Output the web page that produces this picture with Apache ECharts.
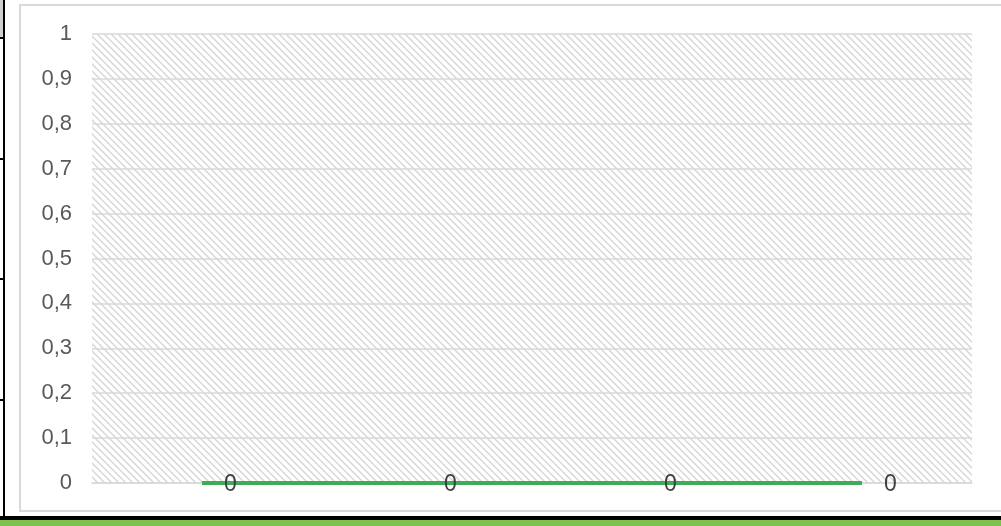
<!DOCTYPE html>
<html>
<head>
<meta charset="utf-8">
<script src="https://cdn.jsdelivr.net/npm/echarts@6/dist/echarts.min.js"></script>
<style>
  html, body { margin: 0; padding: 0; background: #fff; }
  #chart { width: 1001px; height: 526px; }
</style>
</head>
<body>
<div id="chart"></div>
<script>
// data
const categories = ["A", "B", "C", "D"];
const values = [0, 0, 0, 0];
const yMin = 0;
const yMax = 1;
const yStep = 0.1;

// diagonal hatch for the plot background
function hatch() {
  const c = document.createElement("canvas");
  c.width = 7;
  c.height = 7;
  const ctx = c.getContext("2d");
  ctx.strokeStyle = "#d6d6d6";
  ctx.lineWidth = 1.4;
  [-7, 0, 7].forEach((k) => {
    ctx.beginPath();
    ctx.moveTo(k - 1, -1);
    ctx.lineTo(k + 8, 8);
    ctx.stroke();
  });
  return { image: c, repeat: "repeat" };
}

const myChart = echarts.init(document.getElementById("chart"));
const option = {
  animation: false,
  backgroundColor: "#fff",
  grid: {
    left: 92,
    right: 29,
    top: 34,
    bottom: 43,
    show: true,
    borderWidth: 0,
    backgroundColor: hatch(),
  },
  graphic: [
    // outer chart frame
    { type: "rect", shape: { x: 20, y: 5, width: 1000, height: 506 }, style: { fill: "none", stroke: "#d9d9d9", lineWidth: 2 } },
    // screenshot edges
    { type: "rect", shape: { x: 0, y: 0, width: 3, height: 37 }, style: { fill: "#cfcfcf" } },
    { type: "rect", shape: { x: 3, y: 0, width: 2, height: 520 }, style: { fill: "#000" } },
    { type: "rect", shape: { x: 0, y: 37, width: 4, height: 2 }, style: { fill: "#000" } },
    { type: "rect", shape: { x: 0, y: 158, width: 4, height: 2 }, style: { fill: "#000" } },
    { type: "rect", shape: { x: 0, y: 278, width: 4, height: 2 }, style: { fill: "#000" } },
    { type: "rect", shape: { x: 0, y: 399, width: 4, height: 2 }, style: { fill: "#000" } },
    { type: "rect", shape: { x: 0, y: 516, width: 1001, height: 4 }, style: { fill: "#000" } },
    { type: "rect", shape: { x: 0, y: 520, width: 1001, height: 6 }, style: { fill: "#7cc24a" } },
  ],
  xAxis: {
    type: "category",
    data: categories,
    axisLine: { lineStyle: { color: "#d9d9d9", width: 1.5 } },
    axisTick: { show: false },
    axisLabel: { show: false },
  },
  yAxis: {
    type: "value",
    min: yMin,
    max: yMax,
    interval: yStep,
    axisLine: { show: false },
    axisTick: { show: false },
    splitLine: { lineStyle: { color: "#d9d9d9", width: 1.5 } },
    axisLabel: {
      margin: 20,
      color: "#595959",
      fontSize: 22,
      fontFamily: "Liberation Sans",
      formatter: (v) => String(+v.toFixed(1)).replace(".", ","),
    },
  },
  series: [
    {
      type: "line",
      data: values,
      showSymbol: true,
      symbol: "circle",
      symbolSize: 0,
      lineStyle: { color: "#3dab57", width: 4 },
      label: {
        show: true,
        position: "right",
        distance: 22,
        offset: [0, 2],
        color: "#404040",
        fontSize: 23,
        fontFamily: "Liberation Sans",
      },
    },
  ],
};
option && myChart.setOption(option);
</script>
</body>
</html>
